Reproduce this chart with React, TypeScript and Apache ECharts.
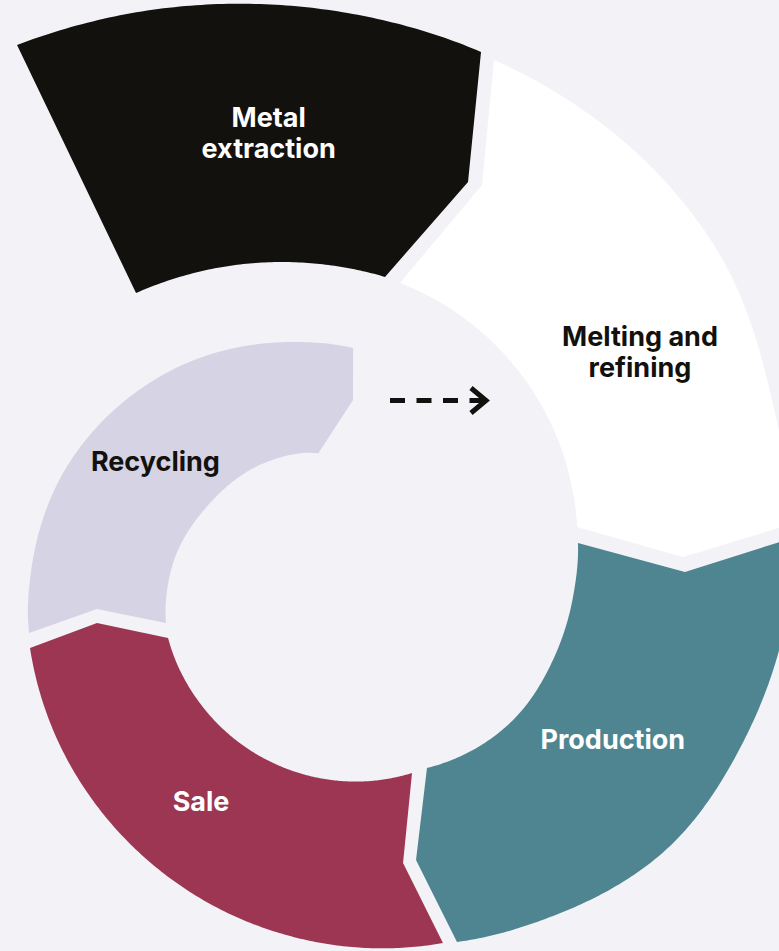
import React, { useEffect, useRef } from 'react';
import * as echarts from 'echarts';

// ---- data (angles: degrees clockwise from 12 o'clock, radii in polar units) ----
const stages = ['Metal extraction', 'Melting and refining', 'Production', 'Sale', 'Recycling'];
const labelTexts = ['Metal\nextraction', 'Melting and\nrefining', 'Production', 'Sale', 'Recycling'];

const outerAngles = [
  [-32.93, -22.6, -10.63, 0, 11.66],
  [13.17, 45.6, 64.7, 81.1],
  [82.9, 96.6, 112.1, 131.0, 151.6, 166.12],
  [168.32, 180.5, 198.1, 223.5, 249.2, 260.32],
  [262.8, 267.7, 290.9, 315.3, 342.1, 356.0],
];
const outerRadii = [
  [649.3, 624.5, 596.2, 572.7, 549.3],
  [544.3, 485.8, 444.6, 427.1],
  [428.3, 415, 403, 394, 373, 362.6],
  [360.5, 358, 354.1, 349.3, 346.1, 344.9],
  [343.7, 342.3, 328.4, 299.7, 260.6, 242.6],
];
const innerAngles = [
  [-38.23, -28.1, -15.34, -5.3, 2.74],
  [5.58, 12.82, 22.76, 33.87, 46.5, 61.23, 73.07],
  [77.27, 92.0, 110.9, 132.3, 162.25],
  [167.07, 173.97, 199.2, 223.7, 247.5, 256.6],
  [260.8, 266.3, 280.8, 297.0, 315.0, 332.9, 339.3],
];
const innerRadii = [
  [378.1, 361.0, 340.1, 324.7, 313.4],
  [308.5, 297.4, 282.0, 265.0, 247.0, 228.6, 216.4],
  [213.2, 203.1, 195.9, 193.3, 186.9],
  [187.8, 189.5, 195.8, 201.7, 206.4, 207.6],
  [206.7, 204.7, 196.8, 183.3, 169.7, 153.6, 146.2],
];
const startTipAngles: (number | null)[] = [null, 15.46, 86.73, 173.1, 266.0];
const startTipRadii: (number | null)[] = [null, 420.2, 315.5, 275.0, 273.7];
const endTipAngles = [13.51, 83.98, 170.33, 263.1, 354.9];
const endTipRadii = [419.6, 314.7, 273.9, 275.0, 190.8];
const labelAngles = [-12.5, 48.6, 121.7, 218.6, 300.9];
const labelRadii = [468.1, 359.9, 285.4, 270.8, 250.1];

// ---- styles ----
const BG = '#f3f2f7';
const fills = ['#12110d', '#ffffff', '#4e8591', '#9c3653', '#d5d3e4'];
const textColors = ['#ffffff', '#12110d', '#ffffff', '#ffffff', '#12110d'];
const INK = '#12110d';

function hermite(ts: number[], rs: number[], t: number): number {
  const n = ts.length;
  const slope = (k: number) => {
    if (k === 0) return (rs[1] - rs[0]) / (ts[1] - ts[0]);
    if (k === n - 1) return (rs[n - 1] - rs[n - 2]) / (ts[n - 1] - ts[n - 2]);
    return (rs[k + 1] - rs[k - 1]) / (ts[k + 1] - ts[k - 1]);
  };
  let i = 0;
  while (i < n - 2 && t > ts[i + 1]) i++;
  const h = ts[i + 1] - ts[i];
  const s = Math.min(1, Math.max(0, (t - ts[i]) / h));
  const s2 = s * s, s3 = s2 * s;
  return (2 * s3 - 3 * s2 + 1) * rs[i] + (s3 - 2 * s2 + s) * h * slope(i) +
    (-2 * s3 + 3 * s2) * rs[i + 1] + (s3 - s2) * h * slope(i + 1);
}

function sampleEdge(ts: number[], rs: number[]): [number, number][] {
  const out: [number, number][] = [];
  const a0 = ts[0], a1 = ts[ts.length - 1];
  const steps = Math.max(2, Math.ceil((a1 - a0) / 0.5));
  for (let k = 0; k <= steps; k++) {
    const a = a0 + ((a1 - a0) * k) / steps;
    out.push([hermite(ts, rs, a), a]);
  }
  return out;
}

export default function App() {
  const ref = useRef<HTMLDivElement>(null);
  useEffect(() => {
    document.body.style.margin = '0';
    const chart = echarts.init(ref.current!, null, { renderer: 'svg' });
    const hidden = {
      axisLine: { show: false },
      axisTick: { show: false },
      axisLabel: { show: false },
      splitLine: { show: false },
    };
    chart.setOption({
      animation: false,
      backgroundColor: BG,
      polar: { center: [370, 590], radius: 700 },
      angleAxis: { type: 'value', min: 0, max: 360, startAngle: 90, clockwise: true, ...hidden },
      radiusAxis: { type: 'value', min: 0, max: 700, ...hidden },
      series: [
        {
          type: 'custom',
          coordinateSystem: 'polar',
          silent: true,
          data: stages.map((name, i) => ({ name, value: [i, 0] })),
          renderItem: (params: any, api: any) => {
            const i = params.dataIndex;
            const P = (r: number, a: number) => api.coord([r, ((a % 360) + 360) % 360]);
            const pts: number[][] = [];
            sampleEdge(outerAngles[i], outerRadii[i]).forEach(([r, a]) => pts.push(P(r, a)));
            pts.push(P(endTipRadii[i], endTipAngles[i]));
            sampleEdge(innerAngles[i], innerRadii[i]).reverse().forEach(([r, a]) => pts.push(P(r, a)));
            const sa = startTipAngles[i], sr = startTipRadii[i];
            if (sa !== null && sr !== null) pts.push(P(sr, sa));
            const lp = P(labelRadii[i], labelAngles[i]);
            return {
              type: 'group',
              children: [
                { type: 'polygon', shape: { points: pts }, style: { fill: fills[i] } },
                {
                  type: 'text',
                  x: lp[0],
                  y: lp[1],
                  style: {
                    text: labelTexts[i],
                    fill: textColors[i],
                    fontFamily: 'Inter',
                    fontWeight: 'bold',
                    fontSize: 27,
                    lineHeight: 31,
                    align: 'center',
                    verticalAlign: 'middle',
                  },
                },
              ],
            };
          },
        },
      ],
      graphic: [
        {
          type: 'line',
          shape: { x1: 390, y1: 400.5, x2: 485, y2: 400.5 },
          style: { stroke: INK, lineWidth: 5, lineDash: [15, 11.5] },
        },
        {
          type: 'polyline',
          shape: { points: [[471, 388], [486, 400.5], [471, 413]] },
          style: { stroke: INK, lineWidth: 5, fill: null },
        },
      ],
    });
    return () => chart.dispose();
  }, []);
  return <div ref={ref} style={{ width: 779, height: 951, background: BG }} />;
}
